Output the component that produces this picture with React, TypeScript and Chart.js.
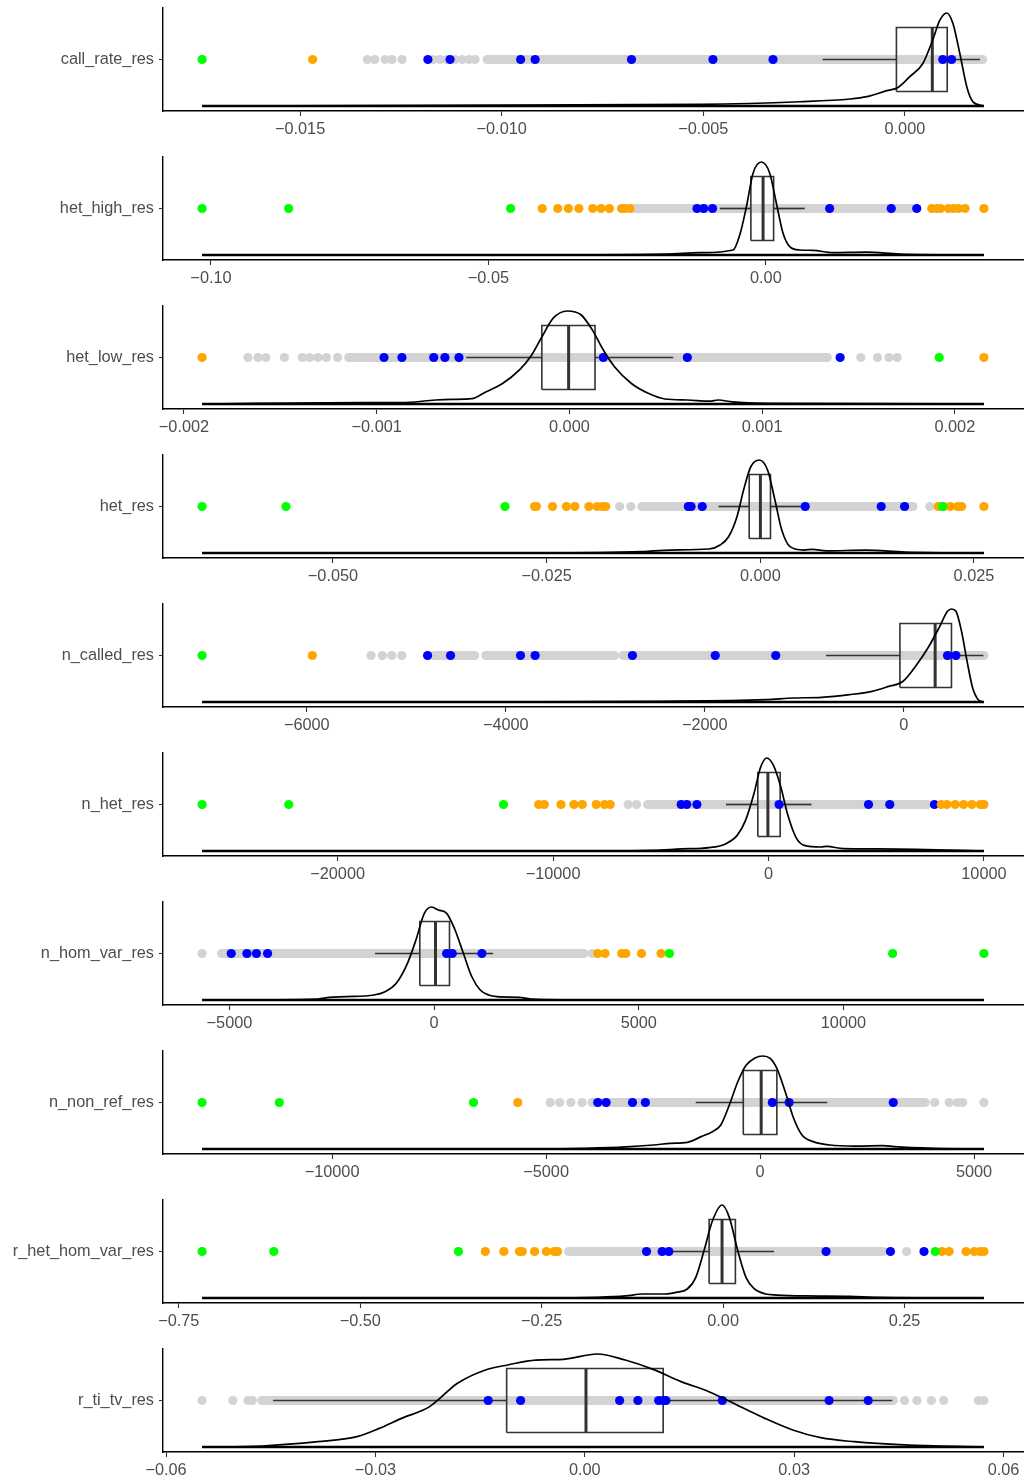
import React, { useEffect, useRef } from "react";
import { Chart, registerables } from "chart.js";
Chart.register(...registerables);

const panelNames = [
  "call_rate_res", "het_high_res", "het_low_res", "het_res", "n_called_res",
  "n_het_res", "n_hom_var_res", "n_non_ref_res", "r_het_hom_var_res", "r_ti_tv_res",
];

// call_rate_res
const callRateTicks = [-0.015, -0.01, -0.005, 0];
const callRateTickLabels = ["−0.015", "−0.010", "−0.005", "0.000"];
const callRateGrey = [-0.01333, -0.01315, -0.01289, -0.01272, -0.01247, -0.0117, -0.01153, -0.01136, -0.01116, -0.01098, -0.01081, -0.01066];
const callRateGreyRuns = [[-0.01036, -0.00893], [-0.00885, -0.00719], [-0.00712, 0.00193]];
const callRateBlue = [-0.01183, -0.01128, -0.00953, -0.00917, -0.00678, -0.00476, -0.00327, 0.00094, 0.00116];
const callRateOrange = [-0.01469];
const callRateGreen = [-0.01743];
const callRateBox = [-0.00204, -0.00021, 0.00068, 0.00105, 0.00186];
const callRateDensX = [-0.01743, -0.01128, -0.00508, -0.0026, -0.00136, -0.00094, -0.00045, -0.00017, 0.00012, 0.00045, 0.00069, 0.00087, 0.00104, 0.00119, 0.00136, 0.00154, 0.00169, 0.00196];
const callRateDensY = [0, 0.008, 0.018, 0.046, 0.075, 0.1, 0.165, 0.2, 0.315, 0.46, 0.71, 0.925, 1.0, 0.89, 0.57, 0.2, 0.045, 0];

// het_high_res
const hetHighTicks = [-0.1, -0.05, 0];
const hetHighTickLabels = ["−0.10", "−0.05", "0.00"];
const hetHighGrey: number[] = [];
const hetHighGreyRuns = [[-0.024, 0.0263]];
const hetHighBlue = [-0.0124, -0.0112, -0.0096, 0.0115, 0.0226, 0.0272];
const hetHighOrange = [-0.0403, -0.0375, -0.0356, -0.0337, -0.0312, -0.0297, -0.0282, -0.026, -0.0254, -0.0245, 0.0299, 0.0308, 0.0315, 0.0329, 0.0338, 0.0347, 0.0359, 0.0393];
const hetHighGreen = [-0.1016, -0.086, -0.046];
const hetHighBox = [-0.0083, -0.0027, -0.0005, 0.0014, 0.007];
const hetHighDensX = [-0.1016, -0.0479, -0.0179, -0.0119, -0.0059, -0.0047, -0.0035, -0.0023, -0.0008, 0.0007, 0.0019, 0.0031, 0.0043, 0.0061, 0.0085, 0.0121, 0.0181, 0.0241, 0.0393];
const hetHighDensY = [0, 0, 0.01, 0.025, 0.054, 0.215, 0.52, 0.88, 1.0, 0.88, 0.556, 0.233, 0.09, 0.054, 0.05, 0.025, 0.03, 0.01, 0];

// het_low_res
const hetLowTicks = [-0.002, -0.001, 0, 0.001, 0.002];
const hetLowTickLabels = ["−0.002", "−0.001", "0.000", "0.001", "0.002"];
const hetLowGrey = [-0.001668, -0.001616, -0.001575, -0.001479, -0.001386, -0.001348, -0.001305, -0.001261, -0.001203, 0.001512, 0.001599, 0.001658, 0.001701];
const hetLowGreyRuns = [[-0.001145, 0.001338]];
const hetLowBlue = [-0.000962, -0.000869, -0.000704, -0.000646, -0.000573, 0.000176, 0.000612, 0.001405];
const hetLowOrange = [-0.001906, 0.002151];
const hetLowGreen = [0.001919];
const hetLowBox = [-0.000535, -0.000143, -0.000004, 0.000133, 0.000539];
const hetLowDensX = [-0.001906, -0.001073, -0.000869, -0.000695, -0.000608, -0.000506, -0.000434, -0.000347, -0.000259, -0.000201, -0.000143, -0.000085, -0.000012, 0.00006, 0.000118, 0.000176, 0.000234, 0.000322, 0.000409, 0.000496, 0.000612, 0.000728, 0.000772, 0.000845, 0.001019, 0.002151];
const hetLowDensY = [0, 0.014, 0.014, 0.043, 0.05, 0.057, 0.13, 0.22, 0.366, 0.51, 0.72, 0.92, 1.0, 0.96, 0.8, 0.58, 0.4, 0.22, 0.115, 0.054, 0.043, 0.03, 0.043, 0.022, 0.007, 0];

// het_res
const hetTicks = [-0.05, -0.025, 0, 0.025];
const hetTickLabels = ["−0.050", "−0.025", "0.000", "0.025"];
const hetGrey = [-0.01646, -0.01515, 0.01983];
const hetGreyRuns = [[-0.01385, 0.01786]];
const hetBlue = [-0.00842, -0.0081, -0.00679, 0.00525, 0.01414, 0.01688];
const hetOrange = [-0.0264, -0.0262, -0.02431, -0.02268, -0.0217, -0.02006, -0.01908, -0.01843, -0.0181, 0.02081, 0.02146, 0.02224, 0.0231, 0.02355, 0.02616];
const hetGreen = [-0.06531, -0.0555, -0.02987, 0.02132];
const hetBox = [-0.00489, -0.0013, 0.00001, 0.00119, 0.00478];
const hetDensX = [-0.06531, -0.02562, -0.01385, -0.01058, -0.00601, -0.0047, -0.00371, -0.00273, -0.00195, -0.0011, -0.00012, 0.00086, 0.00171, 0.0025, 0.00348, 0.00511, 0.00609, 0.00773, 0.01231, 0.01688, 0.02616];
const hetDensY = [0, 0, 0.014, 0.032, 0.043, 0.086, 0.175, 0.39, 0.68, 0.93, 1.0, 0.89, 0.57, 0.25, 0.068, 0.032, 0.039, 0.022, 0.032, 0.011, 0];

// n_called_res
const nCalledTicks = [-6000, -4000, -2000, 0];
const nCalledTickLabels = ["−6000", "−4000", "−2000", "0"];
const nCalledGrey = [-5354, -5241, -5145, -5045];
const nCalledGreyRuns = [[-4735, -4313], [-4201, -2908], [-2822, 805]];
const nCalledBlue = [-4786, -4555, -3852, -3705, -2727, -1895, -1287, 439, 524];
const nCalledOrange = [-5944];
const nCalledGreen = [-7052];
const nCalledBox = [-782, -39, 315, 479, 800];
const nCalledDensX = [-7052, -4201, -2513, -1389, -1108, -827, -545, -320, -152, -11, 129, 242, 355, 439, 479, 524, 580, 636, 692, 748, 805];
const nCalledDensY = [0, 0, 0.007, 0.025, 0.043, 0.05, 0.079, 0.115, 0.168, 0.22, 0.4, 0.58, 0.8, 0.975, 1.0, 0.975, 0.76, 0.437, 0.15, 0.025, 0];

// n_het_res
const nHetTicks = [-20000, -10000, 0, 10000];
const nHetTickLabels = ["−20000", "−10000", "0", "10000"];
const nHetGrey = [-6514, -6125];
const nHetGreyRuns = [[-5606, 7366]];
const nHetBlue = [-4051, -3792, -3324, 491, 4644, 5630, 7704];
const nHetOrange = [-10667, -10407, -9630, -9032, -8644, -7995, -7606, -7347, 8019, 8278, 8667, 9056, 9444, 9833, 10000];
const nHetGreen = [-26292, -22269, -12301];
const nHetBox = [-1972, -495, -28, 542, 1995];
const nHetDensX = [-26292, -7944, -5347, -4051, -2755, -1972, -1454, -1065, -676, -366, -79, 231, 569, 880, 1269, 1657, 2435, 2699, 3477, 5032, 10000];
const nHetDensY = [0, 0, 0.007, 0.022, 0.036, 0.079, 0.168, 0.33, 0.616, 0.9, 1.0, 0.92, 0.69, 0.4, 0.15, 0.061, 0.043, 0.05, 0.025, 0.022, 0];

// n_hom_var_res
const nHomVarTicks = [-5000, 0, 5000, 10000];
const nHomVarTickLabels = ["−5000", "0", "5000", "10000"];
const nHomVarGrey = [-5668, 3861];
const nHomVarGreyRuns = [[-5190, 3656]];
const nHomVarBlue = [-4956, -4573, -4341, -4068, 307, 444, 1168];
const nHomVarOrange = [3998, 4176, 4585, 4683, 5066, 5544];
const nHomVarGreen = [5749, 11202, 13432];
const nHomVarBox = [-1444, -349, 34, 376, 1441];
const nHomVarDensX = [-5668, -2837, -2563, -2154, -1471, -1198, -924, -651, -444, -239, -61, 102, 307, 512, 717, 922, 1127, 1332, 1537, 2085, 2359, 3998, 13432];
const nHomVarDensY = [0, 0.011, 0.029, 0.036, 0.054, 0.09, 0.18, 0.394, 0.645, 0.932, 1.0, 0.968, 0.932, 0.753, 0.5, 0.25, 0.108, 0.054, 0.036, 0.029, 0.011, 0, 0];

// n_non_ref_res
const nNonRefTicks = [-10000, -5000, 0, 5000];
const nNonRefTickLabels = ["−10000", "−5000", "0", "5000"];
const nNonRefGrey = [-4903, -4682, -4420, -4159, 4080, 4418, 4614, 4733, 5230];
const nNonRefGreyRuns = [[-3923, 3856]];
const nNonRefBlue = [-3793, -3597, -2981, -2680, 287, 679, 3112];
const nNonRefOrange = [-5661];
const nNonRefGreen = [-13037, -11232, -6695];
const nNonRefBox = [-1505, -392, 26, 392, 1570];
const nNonRefDensX = [-13037, -5099, -4054, -3137, -2484, -2092, -1701, -1374, -1113, -917, -718, -523, -327, -131, 65, 236, 392, 588, 784, 980, 1241, 1633, 2223, 2876, 3137, 4054, 5230];
const nNonRefDensY = [0, 0, 0.007, 0.022, 0.043, 0.061, 0.072, 0.133, 0.186, 0.258, 0.473, 0.72, 0.9, 0.975, 1.0, 0.975, 0.867, 0.616, 0.33, 0.15, 0.079, 0.043, 0.032, 0.036, 0.025, 0.007, 0];

// r_het_hom_var_res
const rHetHomTicks = [-0.75, -0.5, -0.25, 0, 0.25];
const rHetHomTickLabels = ["−0.75", "−0.50", "−0.25", "0.00", "0.25"];
const rHetHomGrey = [0.2528];
const rHetHomGreyRuns = [[-0.2128, 0.2205]];
const rHetHomBlue = [-0.1056, -0.084, -0.0748, 0.1418, 0.2305, 0.2768];
const rHetHomOrange = [-0.3277, -0.3022, -0.2806, -0.2767, -0.2598, -0.2436, -0.2329, -0.2282, 0.3015, 0.3114, 0.3347, 0.3462, 0.3539, 0.3593];
const rHetHomGreen = [-0.7179, -0.6191, -0.3647, 0.2922];
const rHetHomBox = [-0.0725, -0.0193, -0.0015, 0.0169, 0.0702];
const rHetHomDensX = [-0.7179, -0.2498, -0.1728, -0.1341, -0.111, -0.0802, -0.0648, -0.0494, -0.0378, -0.0263, -0.0147, -0.0015, 0.0085, 0.0201, 0.0316, 0.0432, 0.0586, 0.074, 0.1125, 0.1743, 0.2128, 0.3593];
const rHetHomDensY = [0, 0, 0.007, 0.022, 0.043, 0.043, 0.061, 0.097, 0.22, 0.51, 0.83, 1.0, 0.867, 0.51, 0.22, 0.097, 0.043, 0.032, 0.022, 0.018, 0.007, 0];

// r_ti_tv_res
const rTiTvTicks = [-0.06, -0.03, 0, 0.03, 0.06];
const rTiTvTickLabels = ["−0.06", "−0.03", "0.00", "0.03", "0.06"];
const rTiTvGrey = [-0.05484, -0.05043, -0.04827, -0.04763, 0.04581, 0.04759, 0.04966, 0.05143, 0.05639, 0.05719];
const rTiTvGreyRuns = [[-0.04627, 0.04421]];
const rTiTvBlue = [-0.01384, -0.0092, 0.00499, 0.00761, 0.01059, 0.01123, 0.01163, 0.01971, 0.035, 0.04061];
const rTiTvOrange: number[] = [];
const rTiTvGreen: number[] = [];
const rTiTvBox = [-0.04467, -0.0112, 0.00017, 0.01123, 0.04406];
const rTiTvDensX = [-0.05484, -0.04627, -0.03826, -0.03266, -0.02946, -0.02626, -0.02224, -0.01824, -0.01424, -0.01104, -0.00703, -0.00303, 0.00177, 0.00579, 0.00979, 0.01379, 0.01779, 0.0218, 0.0258, 0.0298, 0.0338, 0.03861, 0.04581, 0.05719];
const rTiTvDensY = [0, 0.011, 0.057, 0.111, 0.2, 0.308, 0.434, 0.685, 0.828, 0.882, 0.935, 0.943, 1.0, 0.935, 0.835, 0.703, 0.595, 0.452, 0.308, 0.183, 0.1, 0.057, 0.022, 0];

type PanelData = {
  name: string; ticks: number[]; tickLabels: string[]; grey: number[]; greyRuns: number[][];
  blue: number[]; orange: number[]; green: number[]; box: number[]; densX: number[]; densY: number[];
};

const panels: PanelData[] = [
  { name: panelNames[0], ticks: callRateTicks, tickLabels: callRateTickLabels, grey: callRateGrey, greyRuns: callRateGreyRuns, blue: callRateBlue, orange: callRateOrange, green: callRateGreen, box: callRateBox, densX: callRateDensX, densY: callRateDensY },
  { name: panelNames[1], ticks: hetHighTicks, tickLabels: hetHighTickLabels, grey: hetHighGrey, greyRuns: hetHighGreyRuns, blue: hetHighBlue, orange: hetHighOrange, green: hetHighGreen, box: hetHighBox, densX: hetHighDensX, densY: hetHighDensY },
  { name: panelNames[2], ticks: hetLowTicks, tickLabels: hetLowTickLabels, grey: hetLowGrey, greyRuns: hetLowGreyRuns, blue: hetLowBlue, orange: hetLowOrange, green: hetLowGreen, box: hetLowBox, densX: hetLowDensX, densY: hetLowDensY },
  { name: panelNames[3], ticks: hetTicks, tickLabels: hetTickLabels, grey: hetGrey, greyRuns: hetGreyRuns, blue: hetBlue, orange: hetOrange, green: hetGreen, box: hetBox, densX: hetDensX, densY: hetDensY },
  { name: panelNames[4], ticks: nCalledTicks, tickLabels: nCalledTickLabels, grey: nCalledGrey, greyRuns: nCalledGreyRuns, blue: nCalledBlue, orange: nCalledOrange, green: nCalledGreen, box: nCalledBox, densX: nCalledDensX, densY: nCalledDensY },
  { name: panelNames[5], ticks: nHetTicks, tickLabels: nHetTickLabels, grey: nHetGrey, greyRuns: nHetGreyRuns, blue: nHetBlue, orange: nHetOrange, green: nHetGreen, box: nHetBox, densX: nHetDensX, densY: nHetDensY },
  { name: panelNames[6], ticks: nHomVarTicks, tickLabels: nHomVarTickLabels, grey: nHomVarGrey, greyRuns: nHomVarGreyRuns, blue: nHomVarBlue, orange: nHomVarOrange, green: nHomVarGreen, box: nHomVarBox, densX: nHomVarDensX, densY: nHomVarDensY },
  { name: panelNames[7], ticks: nNonRefTicks, tickLabels: nNonRefTickLabels, grey: nNonRefGrey, greyRuns: nNonRefGreyRuns, blue: nNonRefBlue, orange: nNonRefOrange, green: nNonRefGreen, box: nNonRefBox, densX: nNonRefDensX, densY: nNonRefDensY },
  { name: panelNames[8], ticks: rHetHomTicks, tickLabels: rHetHomTickLabels, grey: rHetHomGrey, greyRuns: rHetHomGreyRuns, blue: rHetHomBlue, orange: rHetHomOrange, green: rHetHomGreen, box: rHetHomBox, densX: rHetHomDensX, densY: rHetHomDensY },
  { name: panelNames[9], ticks: rTiTvTicks, tickLabels: rTiTvTickLabels, grey: rTiTvGrey, greyRuns: rTiTvGreyRuns, blue: rTiTvBlue, orange: rTiTvOrange, green: rTiTvGreen, box: rTiTvBox, densX: rTiTvDensX, densY: rTiTvDensY },
];

const FONT = { family: '"Liberation Sans", Arial, Helvetica, sans-serif', size: 16.3 };
const TEXT_COLOR = "#4d4d4d";
const GREY = "#d3d3d3";
const BOX_COLOR = "#333333";
const ROW = 0.5;
const BOX_HALF = 0.31;
const DENS_BASE = 0.0485;
const DENS_SPAN = 0.903;
const PANEL_H = 149;
const PT_R = 4.6;

function Panel({ p, index }: { p: PanelData; index: number }) {
  const ref = useRef<HTMLCanvasElement | null>(null);
  useEffect(() => {
    if (!ref.current) return;
    const all = [...p.grey, ...p.greyRuns.flat(), ...p.blue, ...p.orange, ...p.green, ...p.box, ...p.densX];
    const lo = Math.min(...all);
    const hi = Math.max(...all);
    const pad = (hi - lo) * 0.05;
    const pts = (arr: number[]) => arr.map((x) => ({ x, y: ROW }));
    const lineDs = (data: { x: number; y: number }[], color: string, width: number, order: number, extra: any = {}) => ({
      data, showLine: true, borderColor: color, borderWidth: width, pointRadius: 0, pointHoverRadius: 0,
      fill: false, order, ...extra,
    });
    const pointDs = (arr: number[], color: string, order: number) => ({
      data: pts(arr), showLine: false, pointRadius: PT_R, pointHoverRadius: PT_R, backgroundColor: color,
      pointBackgroundColor: color, pointBorderWidth: 0, borderWidth: 0, order,
    });
    const [w0, q1, med, q3, w1] = p.box;
    const bLo = ROW - BOX_HALF;
    const bHi = ROW + BOX_HALF;
    const datasets: any[] = [
      ...p.greyRuns.map(([a, b]) => lineDs([{ x: a, y: ROW }, { x: b, y: ROW }], GREY, PT_R * 2, 10, { borderCapStyle: "round" })),
      pointDs(p.grey, GREY, 10),
      lineDs([{ x: w0, y: ROW }, { x: q1, y: ROW }], BOX_COLOR, 1.7, 6),
      lineDs([{ x: q3, y: ROW }, { x: w1, y: ROW }], BOX_COLOR, 1.7, 6),
      lineDs([{ x: q1, y: bLo }, { x: q3, y: bLo }, { x: q3, y: bHi }, { x: q1, y: bHi }, { x: q1, y: bLo }], BOX_COLOR, 1.6, 6),
      lineDs([{ x: med, y: bLo }, { x: med, y: bHi }], BOX_COLOR, 3, 6),
      pointDs(p.blue, "#0000ff", 4),
      pointDs(p.orange, "#ffa500", 3),
      pointDs(p.green, "#00ff00", 2),
      lineDs([{ x: p.densX[0], y: DENS_BASE }, { x: p.densX[p.densX.length - 1], y: DENS_BASE }], "#000000", 2.6, 1),
      lineDs(p.densX.map((x, i) => ({ x, y: DENS_BASE + DENS_SPAN * p.densY[i] })), "#000000", 1.7, 0, { cubicInterpolationMode: "monotone" }),
    ];
    const chart = new Chart(ref.current, {
      type: "scatter",
      data: { datasets },
      options: {
        animation: false,
        responsive: false,
        events: [],
        layout: { autoPadding: false, padding: { top: 8, right: 5, bottom: 0, left: 0 } },
        plugins: { legend: { display: false }, tooltip: { enabled: false } },
        scales: {
          x: {
            type: "linear",
            min: lo - pad,
            max: hi + pad,
            afterBuildTicks: (s: any) => { s.ticks = p.ticks.map((v) => ({ value: v })); },
            afterFit: (s: any) => { s.height = 38; s.paddingLeft = 0; s.paddingRight = 0; },
            ticks: {
              callback: (_v: any, i: number) => p.tickLabels[i],
              font: FONT, color: TEXT_COLOR, padding: 4, maxRotation: 0, autoSkip: false,
            },
            grid: { display: true, drawOnChartArea: false, drawTicks: true, tickLength: 5, tickColor: BOX_COLOR, tickWidth: 1.1 },
            border: { display: true, color: "#000000", width: 1.4 },
          },
          y: {
            type: "linear",
            min: 0,
            max: 1,
            afterBuildTicks: (s: any) => { s.ticks = [{ value: ROW }]; },
            afterFit: (s: any) => { s.width = 163; s.paddingTop = 0; s.paddingBottom = 0; },
            ticks: {
              callback: () => p.name,
              font: FONT, color: TEXT_COLOR, padding: 5, autoSkip: false,
            },
            grid: { display: true, drawOnChartArea: false, drawTicks: true, tickLength: 4, tickColor: BOX_COLOR, tickWidth: 1.1 },
            border: { display: true, color: "#000000", width: 1.4 },
          },
        },
      } as any,
    });
    return () => chart.destroy();
  }, [p]);
  return (
    <canvas
      ref={ref}
      width={1028}
      height={PANEL_H}
      style={{ position: "absolute", left: 0, top: index * PANEL_H, display: "block" }}
    />
  );
}

export default function App() {
  return (
    <div style={{ position: "absolute", left: 0, top: 0, width: 1028, height: 1481, overflow: "hidden", background: "#ffffff" }}>
      {panels.map((p, i) => (
        <Panel key={p.name} p={p} index={i} />
      ))}
    </div>
  );
}
